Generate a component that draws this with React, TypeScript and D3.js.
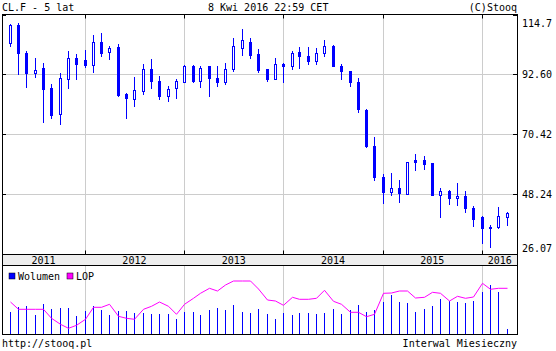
import * as d3 from "d3";

// monthly candles, Apr 2011 .. Apr 2016
const months = d3.timeMonth.range(new Date(2011, 3, 1), new Date(2016, 4, 1));

const open = [
  104.0, 110.7, 100.4, 93.1, 94.8, 87.4, 78.1, 90.9, 98.5, 97.8,
  96.1, 104.4, 101.0, 102.6, 85.2, 83.6, 86.6, 94.4, 90.3, 84.7,
  87.7, 89.9, 95.5, 90.3, 95.5, 91.4, 89.9, 94.7, 102.5, 104.4,
  100.0, 94.4, 91.0, 96.6, 95.5, 101.0, 99.2, 97.7, 100.6, 103.0,
  95.5, 94.0, 89.9, 79.5, 66.3, 54.8, 49.1, 50.7, 48.5, 60.8,
  60.8, 59.7, 48.0, 49.6, 47.0, 47.8, 43.3, 40.0, 36.4, 36.2, 40.0,
];
const high = [
  111.1, 111.4, 101.1, 98.5, 96.7, 88.9, 93.0, 101.1, 100.0, 101.5,
  107.0, 107.8, 103.0, 103.7, 85.6, 91.5, 96.3, 98.2, 91.9, 88.4,
  90.7, 96.0, 96.0, 95.5, 95.5, 95.5, 96.9, 106.2, 109.3, 105.9,
  101.9, 94.7, 98.5, 96.9, 101.1, 102.6, 102.6, 102.2, 105.2, 103.4,
  96.6, 94.0, 91.4, 79.9, 69.6, 55.9, 56.0, 53.7, 60.3, 63.0,
  62.3, 59.7, 50.7, 50.0, 52.3, 49.6, 43.9, 40.4, 37.05, 43.7, 41.9,
];
const low = [
  102.9, 92.6, 88.0, 91.6, 75.0, 76.5, 74.2, 87.6, 90.9, 95.2,
  93.5, 99.5, 98.4, 84.6, 76.5, 80.9, 85.3, 87.6, 83.5, 82.7,
  83.9, 89.6, 89.9, 88.1, 84.7, 88.4, 89.2, 94.0, 99.9, 98.8,
  93.6, 90.3, 90.7, 89.6, 94.4, 95.1, 96.6, 96.6, 99.2, 95.5,
  91.0, 88.4, 78.8, 65.9, 53.7, 45.2, 48.0, 45.4, 48.4, 57.2,
  57.6, 48.0, 39.9, 44.7, 44.3, 41.7, 36.5, 30.3, 28.8, 35.9, 37.05,
];
const close = [
  110.7, 100.3, 93.1, 94.1, 87.2, 77.6, 91.1, 98.5, 96.3, 95.9,
  104.4, 100.6, 102.5, 85.0, 83.9, 86.7, 94.4, 90.3, 84.7, 87.3,
  90.3, 95.5, 90.3, 95.1, 91.4, 89.9, 94.4, 102.9, 105.2, 99.9,
  94.1, 91.0, 96.6, 95.5, 100.3, 99.2, 97.7, 100.6, 102.9, 95.5,
  94.0, 89.6, 79.9, 66.3, 54.8, 49.3, 50.7, 48.9, 60.3, 60.2,
  59.5, 48.0, 49.6, 47.0, 47.8, 43.2, 39.1, 35.8, 35.8, 40.4, 41.5,
];
// volume (mln contracts) and open interest (thousands)
const volume = [
  6.6, 8.1, 8.4, 5.7, 9.0, 7.5, 7.8, 7.8, 5.4, 6.9,
  8.4, 7.2, 5.7, 6.9, 6.9, 6.3, 6.3, 6.0, 6.0, 6.0,
  4.5, 6.6, 6.6, 5.7, 7.2, 7.8, 7.2, 8.7, 6.6, 6.3,
  7.5, 6.0, 4.5, 6.3, 5.7, 6.3, 6.3, 6.0, 6.3, 7.5,
  6.0, 7.2, 8.7, 6.6, 7.2, 9.6, 11.7, 9.6, 9.3, 6.6,
  7.5, 8.4, 10.5, 9.9, 9.6, 9.3, 9.9, 12.6, 14.7, 12.6, 1.5,
];
const lop = [
  1520, 1447, 1447, 1447, 1447, 1357, 1297, 1257, 1287, 1347,
  1467, 1467, 1497, 1377, 1357, 1347, 1447, 1477, 1520, 1477,
  1397, 1497, 1557, 1607, 1657, 1630, 1690, 1730, 1730, 1730,
  1650, 1540, 1530, 1487, 1567, 1547, 1547, 1557, 1637, 1527,
  1497, 1417, 1417, 1373, 1397, 1607, 1610, 1630, 1630, 1560,
  1567, 1617, 1607, 1530, 1577, 1557, 1570, 1707, 1647, 1657, 1657,
];

const yTicks = [26.07, 48.24, 70.42, 92.6, 114.7];
const yTickLabels = ["26.07", "48.24", "70.42", "92.60", "114.7"];
const years = [2011, 2012, 2013, 2014, 2015, 2016];

const BLUE = "#0000ff";
const GRID = "#cccccc";
const FONT = "DejaVu Sans Mono, monospace";

export default function App() {
  const L = 2.5, R = 517.5, T = 14.5, B = 254.5;
  const bandB = 265.5, volB = 334.5;

  const x = d3.scaleTime()
    .domain([new Date(2011, 2, 3), new Date(2016, 4, 9)])
    .range([2, 517]);
  const y = d3.scaleLinear().domain([26.07, 114.7]).range([B, T]);
  const yVol = d3.scaleLinear().domain([0, 20.4]).range([334, 266]);
  const yLop = d3.scaleLinear().domain([1200, 1880]).range([334, 266]);

  const cx = (d: Date) => Math.round(x(d)) + 0.5;
  const gridYears = years.slice(1).map((yr) => new Date(yr, 0, 1));

  const lopLine = d3.line<number>()
    .x((_, i) => cx(months[i]))
    .y((v) => yLop(v));

  // y label baselines, clamped inside the plot height
  const labelY = (v: number) => Math.min(251.5, Math.max(26.5, y(v) + 3.5));

  return (
    <div>
      <style>{"body{margin:0}"}</style>
      <svg width={556} height={351} fontFamily={FONT} fontSize={10}>
        <rect width={556} height={351} fill="#fff" />

        {/* header */}
        <text x={2} y={10.5}>CL.F - 5 lat</text>
        <text x={208} y={10.5}>8 Kwi 2016 22:59 CET</text>
        <text x={517} y={10.5} textAnchor="end">(C)Stooq</text>

        {/* price grid */}
        {yTicks.slice(1, -1).map((t) => (
          <line key={t} x1={L} x2={R} y1={Math.round(y(t)) + 0.5} y2={Math.round(y(t)) + 0.5} stroke={GRID} />
        ))}
        {gridYears.map((d) => (
          <line key={+d} x1={cx(d)} x2={cx(d)} y1={T} y2={B} stroke={GRID} />
        ))}

        {/* candles */}
        {months.map((d, i) => {
          const c = cx(d);
          const up = close[i] >= open[i];
          const top = Math.round(y(Math.max(open[i], close[i])));
          const bot = Math.round(y(Math.min(open[i], close[i])));
          return (
            <g key={i}>
              <line x1={c} x2={c} y1={Math.round(y(high[i]))} y2={Math.round(y(low[i])) + 1} stroke={BLUE} />
              {up ? (
                <rect x={c - 1} y={top + 0.5} width={2} height={Math.max(1, bot - top)} fill="#fff" stroke={BLUE} />
              ) : (
                <rect x={c - 1.5} y={top} width={3} height={Math.max(2, bot - top + 1)} fill={BLUE} />
              )}
            </g>
          );
        })}

        {/* price frame and ticks */}
        <rect x={L} y={T} width={R - L} height={B - T} fill="none" stroke="#000" />
        {yTicks.map((t) => (
          <g key={t} stroke="#000">
            <line x1={L} x2={6} y1={Math.round(y(t)) + 0.5} y2={Math.round(y(t)) + 0.5} />
            <line x1={513} x2={R} y1={Math.round(y(t)) + 0.5} y2={Math.round(y(t)) + 0.5} />
          </g>
        ))}
        {gridYears.map((d) => (
          <g key={+d} stroke="#000">
            <line x1={cx(d)} x2={cx(d)} y1={T} y2={T + 4} />
            <line x1={cx(d)} x2={cx(d)} y1={B - 4} y2={B} />
          </g>
        ))}
        {yTicks.map((t, i) => (
          <text key={t} x={522} y={labelY(t)}>{yTickLabels[i]}</text>
        ))}

        {/* year band */}
        <rect x={L} y={B} width={R - L} height={bandB - B} fill="#eeeeee" stroke="#000" />
        {years.map((yr) => {
          const a = Math.max(L, x(new Date(yr, 0, 1)));
          const b = Math.min(R, x(new Date(yr + 1, 0, 1)));
          return (
            <text key={yr} x={(a + b) / 2} y={263.5} textAnchor="middle">{yr}</text>
          );
        })}

        {/* volume / LOP panel */}
        {gridYears.map((d) => (
          <line key={+d} x1={cx(d)} x2={cx(d)} y1={bandB} y2={volB} stroke={GRID} />
        ))}
        {months.map((d, i) => (
          <line key={i} x1={cx(d)} x2={cx(d)} y1={yVol(0)} y2={Math.round(yVol(volume[i]))} stroke={BLUE} />
        ))}
        <path d={lopLine(lop) ?? ""} fill="none" stroke="#ff00ff" />
        <rect x={L} y={bandB} width={R - L} height={volB - bandB} fill="none" stroke="#000" />

        <rect x={9} y={273} width={6} height={6} fill={BLUE} stroke="#000" strokeWidth={0.5} />
        <text x={18} y={279.5}>Wolumen</text>
        <rect x={67} y={273} width={6} height={6} fill="#ff00ff" stroke="#000" strokeWidth={0.5} />
        <text x={76} y={279.5}>LOP</text>

        {/* footer */}
        <text x={2} y={346.5}>http://stooq.pl</text>
        <text x={517} y={346.5} textAnchor="end">Interwal Miesieczny</text>
      </svg>
    </div>
  );
}
